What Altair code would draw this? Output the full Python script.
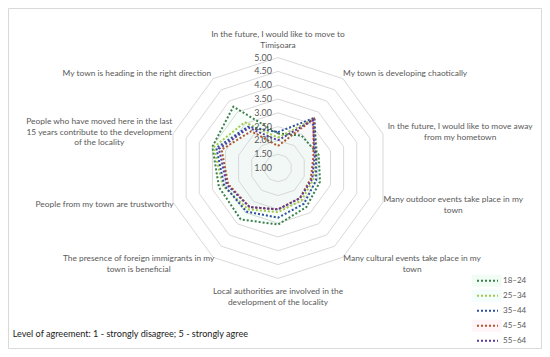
import altair as alt
import pandas as pd

# ---------------- data ----------------
categories = [
    "In the future, I would like to move to\nTimișoara",
    "My town is developing chaotically",
    "In the future, I would like to move away\nfrom my hometown",
    "Many outdoor events take place in my\ntown",
    "Many cultural events take place in my\ntown",
    "Local authorities are involved in the\ndevelopment of the locality",
    "The presence of foreign immigrants in my\ntown is beneficial",
    "People from my town are trustworthy",
    "People who have moved here in the last\n15 years contribute to the development\nof the locality",
    "My town is heading in the right direction",
]
age_groups = ["18–24", "25–34", "35–44", "45–54", "55–64"]
values_18_24 = [2.25, 2.45, 2.55, 2.60, 2.75, 3.05, 3.30, 3.25, 3.50, 3.75]
values_25_34 = [2.10, 3.20, 2.50, 2.35, 2.45, 2.60, 2.85, 3.10, 3.45, 3.05]
values_35_44 = [2.30, 3.25, 2.45, 2.45, 2.60, 2.80, 2.95, 3.05, 3.35, 2.85]
values_45_54 = [1.80, 3.20, 2.35, 2.25, 2.35, 2.50, 2.75, 2.90, 3.15, 2.65]
values_55_64 = [2.00, 3.15, 2.40, 2.30, 2.35, 2.50, 2.75, 2.95, 3.25, 2.80]
series_values = [values_18_24, values_25_34, values_35_44, values_45_54, values_55_64]
series_colors = ["#3b7f4e", "#a6c84a", "#2f4f9f", "#b0552b", "#5b3a9e"]
fill_colors = ["#8ee6ae", "#9cefe6", "#ffffff", "#ffa8c4", "#ffffff"]
ticks = [1.0, 1.5, 2.0, 2.5, 3.0, 3.5, 4.0, 4.5, 5.0]
footnote = "Level of agreement: 1 - strongly disagree; 5 - strongly agree"

# ---------------- layout ----------------
W, H = 534, 341
CX, CY = 270, 160          # centre of the radar inside the chart
PX = 27.6                  # pixels per value unit
VMIN = 1.0
FONT = "Lato"
GRAY = "#595959"
FS = 8.4

xs = alt.Scale(domain=[-CX / PX, (W - CX) / PX], range=[0, W], nice=False, zero=False)
ys = alt.Scale(domain=[-(H - CY) / PX, CY / PX], range=[H, 0], nice=False, zero=False)
n_cat = len(categories)

# ---------------- tables ----------------
rows = []
for age, vals in zip(age_groups, series_values):
    for k in range(n_cat + 1):
        rows.append({"age": age, "k": k, "value": vals[k % n_cat]})
df_series = pd.DataFrame(rows)

grid_rows = []
for t in ticks[1:]:
    for k in range(n_cat + 1):
        grid_rows.append({"tick": t, "k": k})
df_grid = pd.DataFrame(grid_rows)

df_ticks = pd.DataFrame({"tick": ticks})
df_cats = pd.DataFrame({"label": categories, "k": list(range(n_cat))})
df_leg = pd.DataFrame({"age": age_groups, "rank": list(range(len(age_groups)))})

polar = dict(
    ang=f"datum.k * 2 * PI / {n_cat}",
    px=f"(datum.value - {VMIN}) * sin(datum.ang)",
    py=f"(datum.value - {VMIN}) * cos(datum.ang)",
)

X = alt.X("px:Q", scale=xs, axis=None)
Y = alt.Y("py:Q", scale=ys, axis=None)
color_scale = alt.Scale(domain=age_groups, range=series_colors)
fill_scale = alt.Scale(domain=age_groups, range=fill_colors)

grid = alt.Chart(df_grid).transform_calculate(value="datum.tick", **polar).mark_line(
    color="#d9d9d9", strokeWidth=1
).encode(x=X, y=Y, detail="tick:N", order="k:Q")

fills = alt.Chart(df_series).transform_calculate(**polar).mark_line(
    strokeOpacity=0, fillOpacity=0.06
).encode(
    x=X, y=Y, order="k:Q",
    fill=alt.Fill("age:N", scale=fill_scale, legend=None),
)

lines = alt.Chart(df_series).transform_calculate(**polar).mark_line(
    strokeDash=[2, 2], strokeWidth=2
).encode(
    x=X, y=Y, order="k:Q",
    color=alt.Color("age:N", scale=color_scale, legend=None),
)

tick_labels = alt.Chart(df_ticks).transform_calculate(
    px="0", py=f"datum.tick - {VMIN}"
).mark_text(
    align="right", baseline="middle", dx=-6, font=FONT, fontSize=9, color=GRAY
).encode(x=X, y=Y, text=alt.Text("tick:Q", format=".2f"))

R_LAB = 118   # anchor radius of category labels, px
CW = 3.5      # average character width, px
LH = 10.7     # line height, px
cat_labels = alt.Chart(df_cats).transform_calculate(
    ang=f"datum.k * 2 * PI / {n_cat}",
    s="sin(datum.ang)",
    c="cos(datum.ang)",
    w1=f"(indexof(datum.label, '\\n') >= 0 ? indexof(datum.label, '\\n') : length(datum.label)) * {CW}",
    nl="length(split(datum.label, '\\n'))",
    axp=f"{R_LAB} * datum.s + (abs(datum.s) > 0.1 ? (datum.s > 0 ? 1 : -1) * datum.w1 / 2 : 0)",
    ayp=(f"{R_LAB} * datum.c + (abs(datum.s) < 0.1 ? (datum.c > 0 ? 1 : -1) * datum.nl * {LH} / 2 : 0)"
         f" + (datum.nl - 1) * {LH} / 2"),
    px=f"datum.axp / {PX}",
    py=f"datum.ayp / {PX}",
).mark_text(
    align="center", baseline="middle", lineBreak="\n", lineHeight=LH,
    font=FONT, fontSize=FS, color=GRAY
).encode(x=X, y=Y, text="label:N")

note = alt.Chart(pd.DataFrame({"t": [footnote]})).mark_text(
    align="left", baseline="middle", font=FONT, fontSize=9.1, color="#1a1a1a"
).encode(x=alt.value(4.7), y=alt.value(326.3), text="t:N")

frame = alt.Chart(pd.DataFrame({"a": [0]})).mark_rect(
    fill="transparent", stroke="#d9d9d9", strokeWidth=1
).encode(x=alt.value(0.5), x2=alt.value(W - 0.5), y=alt.value(0.5), y2=alt.value(H - 0.5))

radar = alt.layer(frame, grid, fills, lines, tick_labels, cat_labels, note)

LY = alt.Scale(domain=[0, len(age_groups) - 1], range=[272.7, 332.7], nice=False, zero=False)
leg_box = alt.Chart(df_leg).transform_calculate(
    r1="datum.rank - 0.4", r2="datum.rank + 0.4"
).mark_rect(fillOpacity=0.12).encode(
    x=alt.value(463.7), x2=alt.value(493.7),
    y=alt.Y("r1:Q", scale=LY, axis=None), y2="r2:Q",
    fill=alt.Fill("age:N", scale=fill_scale, legend=None),
)
leg_line = alt.Chart(df_leg).mark_rule(strokeDash=[2, 2], strokeWidth=2).encode(
    x=alt.value(469), x2=alt.value(490),
    y=alt.Y("rank:Q", scale=LY, axis=None),
    color=alt.Color("age:N", scale=color_scale, legend=None),
)
leg_text = alt.Chart(df_leg).mark_text(
    align="left", baseline="middle", font=FONT, fontSize=8, color=GRAY
).encode(
    x=alt.value(495),
    y=alt.Y("rank:Q", scale=LY, axis=None),
    text="age:N",
)
legend = alt.layer(leg_box, leg_line, leg_text)

chart = alt.layer(radar, legend).resolve_scale(y="independent").properties(
    width=W, height=H, padding=0,
    autosize=alt.AutoSizeParams(type="none"),
    background="white",
).configure_view(stroke=None)

chart.save("out.html", embed_options={"renderer": "svg", "actions": False})
